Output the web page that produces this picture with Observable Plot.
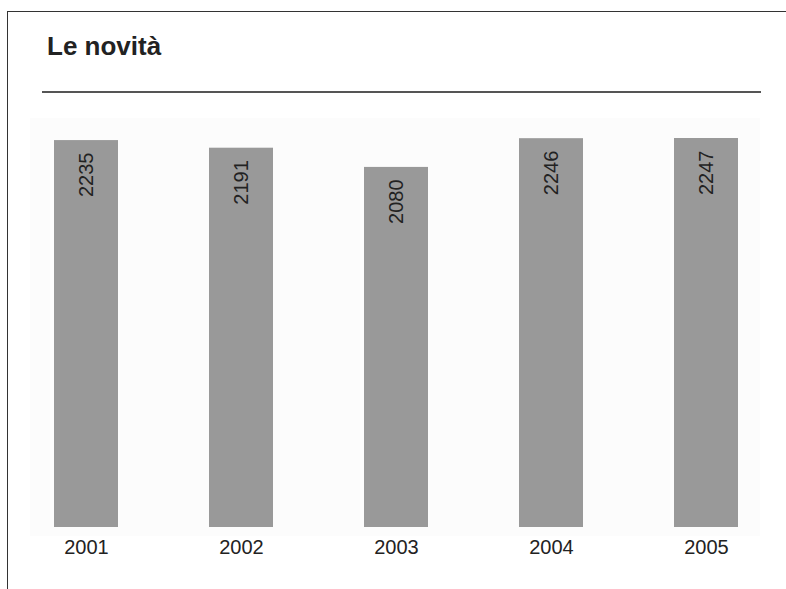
<!DOCTYPE html>
<html>
<head>
<meta charset="utf-8">
<script src="https://cdn.jsdelivr.net/npm/d3@7"></script>
<script src="https://cdn.jsdelivr.net/npm/@observablehq/plot@0.6"></script>
<style>
  html, body { margin: 0; padding: 0; background: #fff; }
  #wrap { position: relative; width: 786px; height: 589px; overflow: hidden; font-family: "Liberation Sans", Arial, sans-serif; }
  #border { position: absolute; left: 7px; top: 11px; width: 800px; height: 700px; border-left: 1.5px solid #333; border-top: 1.5px solid #333; }
  #title { position: absolute; left: 47px; top: 33px; font-size: 26px; font-weight: bold; color: #222; line-height: 1; margin: 0; }
  #rule { position: absolute; left: 42px; top: 91px; width: 719px; height: 0; border-top: 2px solid #555; }
  #bg { position: absolute; left: 30px; top: 118px; width: 730px; height: 418px; background: #fcfcfc; }
  #chart { position: absolute; left: 0; top: 0; }
</style>
</head>
<body>
<div id="wrap">
  <div id="bg"></div>
  <div id="border"></div>
  <h2 id="title">Le novità</h2>
  <div id="rule"></div>
  <div id="chart"></div>
</div>
<script>
const years = ["2001", "2002", "2003", "2004", "2005"];
const values = [2235, 2191, 2080, 2246, 2247];

const data = years.map((y, i) => ({year: y, value: values[i]}));

const chart = Plot.plot({
  width: 786,
  height: 589,
  marginLeft: 7,
  marginRight: 2,
  marginTop: 138,
  marginBottom: 62,
  style: {background: "transparent", fontFamily: "'Liberation Sans', Arial, sans-serif"},
  x: {domain: years, paddingInner: 0.59, paddingOuter: 0.295, label: null},
  y: {domain: [0, d3.max(values)], axis: null},
  marks: [
    Plot.barY(data, {x: "year", y: "value", fill: "#999999"}),
    Plot.text(data, {
      x: "year", y: "value", text: d => String(d.value),
      rotate: -90, textAnchor: "end", lineAnchor: "middle",
      dy: 12, fontSize: 20, fill: "#222"
    }),
    Plot.axisX({tickSize: 0, tickPadding: 12, fontSize: 20, color: "#222", label: null})
  ]
});
document.getElementById("chart").appendChild(chart);
</script>
</body>
</html>
